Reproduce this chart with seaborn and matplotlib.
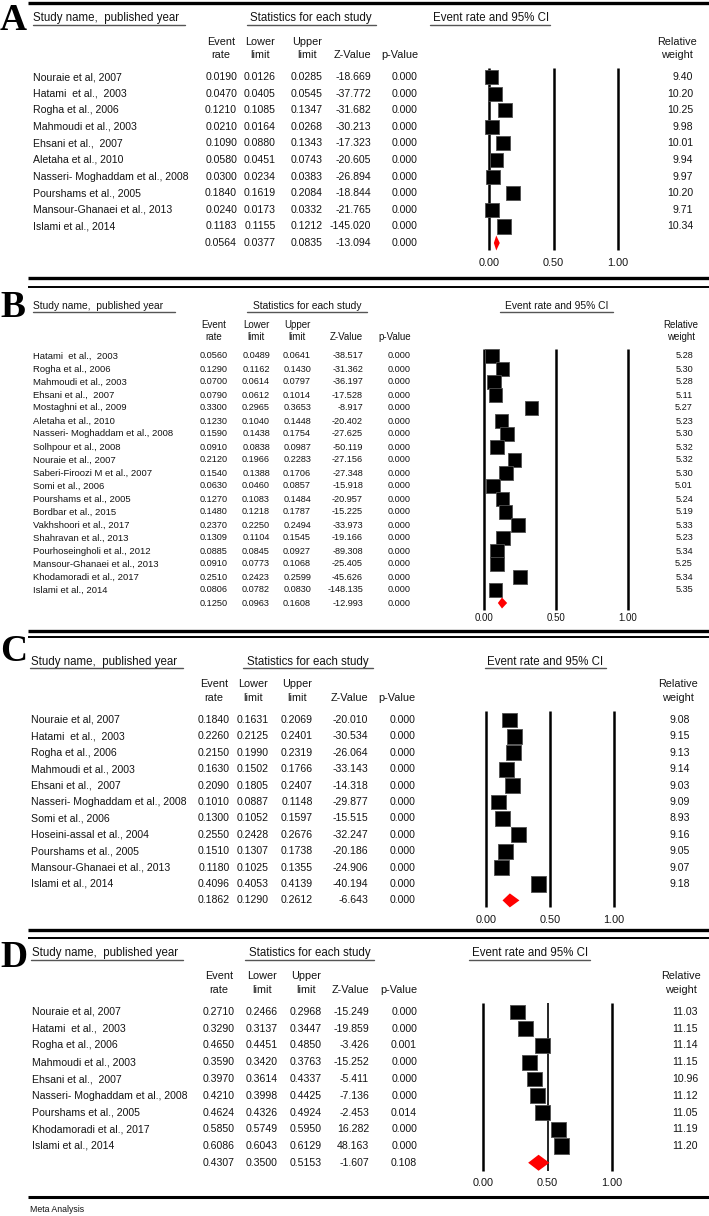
import matplotlib
matplotlib.use("Agg")
import matplotlib.pyplot as plt
import seaborn as sns
import numpy as np
import pandas as pd

# ---------------- data ----------------
a_names = ["Nouraie et al, 2007", "Hatami  et al.,  2003", "Rogha et al., 2006",
           "Mahmoudi et al., 2003", "Ehsani et al.,  2007", "Aletaha et al., 2010",
           "Nasseri- Moghaddam et al., 2008", "Pourshams et al., 2005",
           "Mansour-Ghanaei et al., 2013", "Islami et al., 2014"]
a_rate = [0.0190, 0.0470, 0.1210, 0.0210, 0.1090, 0.0580, 0.0300, 0.1840, 0.0240, 0.1183]
a_lower = [0.0126, 0.0405, 0.1085, 0.0164, 0.0880, 0.0451, 0.0234, 0.1619, 0.0173, 0.1155]
a_upper = [0.0285, 0.0545, 0.1347, 0.0268, 0.1343, 0.0743, 0.0383, 0.2084, 0.0332, 0.1212]
a_z = [-18.669, -37.772, -31.682, -30.213, -17.323, -20.605, -26.894, -18.844, -21.765, -145.020]
a_p = [0.000] * 10
a_weight = [9.40, 10.20, 10.25, 9.98, 10.01, 9.94, 9.97, 10.20, 9.71, 10.34]
a_pooled = [0.0564, 0.0377, 0.0835, -13.094, 0.000]

b_names = ["Hatami  et al.,  2003", "Rogha et al., 2006", "Mahmoudi et al., 2003",
           "Ehsani et al.,  2007", "Mostaghni et al., 2009", "Aletaha et al., 2010",
           "Nasseri- Moghaddam et al., 2008", "Solhpour et al., 2008", "Nouraie et al., 2007",
           "Saberi-Firoozi M et al., 2007", "Somi et al., 2006", "Pourshams et al., 2005",
           "Bordbar et al., 2015", "Vakhshoori et al., 2017", "Shahravan et al., 2013",
           "Pourhoseingholi et al., 2012", "Mansour-Ghanaei et al., 2013",
           "Khodamoradi et al., 2017", "Islami et al., 2014"]
b_rate = [0.0560, 0.1290, 0.0700, 0.0790, 0.3300, 0.1230, 0.1590, 0.0910, 0.2120, 0.1540,
          0.0630, 0.1270, 0.1480, 0.2370, 0.1309, 0.0885, 0.0910, 0.2510, 0.0806]
b_lower = [0.0489, 0.1162, 0.0614, 0.0612, 0.2965, 0.1040, 0.1438, 0.0838, 0.1966, 0.1388,
           0.0460, 0.1083, 0.1218, 0.2250, 0.1104, 0.0845, 0.0773, 0.2423, 0.0782]
b_upper = [0.0641, 0.1430, 0.0797, 0.1014, 0.3653, 0.1448, 0.1754, 0.0987, 0.2283, 0.1706,
           0.0857, 0.1484, 0.1787, 0.2494, 0.1545, 0.0927, 0.1068, 0.2599, 0.0830]
b_z = [-38.517, -31.362, -36.197, -17.528, -8.917, -20.402, -27.625, -50.119, -27.156, -27.348,
       -15.918, -20.957, -15.225, -33.973, -19.166, -89.308, -25.405, -45.626, -148.135]
b_p = [0.000] * 19
b_weight = [5.28, 5.30, 5.28, 5.11, 5.27, 5.23, 5.30, 5.32, 5.32, 5.30,
            5.01, 5.24, 5.19, 5.33, 5.23, 5.34, 5.25, 5.34, 5.35]
b_pooled = [0.1250, 0.0963, 0.1608, -12.993, 0.000]

c_names = ["Nouraie et al, 2007", "Hatami  et al.,  2003", "Rogha et al., 2006",
           "Mahmoudi et al., 2003", "Ehsani et al.,  2007", "Nasseri- Moghaddam et al., 2008",
           "Somi et al., 2006", "Hoseini-assal et al., 2004", "Pourshams et al., 2005",
           "Mansour-Ghanaei et al., 2013", "Islami et al., 2014"]
c_rate = [0.1840, 0.2260, 0.2150, 0.1630, 0.2090, 0.1010, 0.1300, 0.2550, 0.1510, 0.1180, 0.4096]
c_lower = [0.1631, 0.2125, 0.1990, 0.1502, 0.1805, 0.0887, 0.1052, 0.2428, 0.1307, 0.1025, 0.4053]
c_upper = [0.2069, 0.2401, 0.2319, 0.1766, 0.2407, 0.1148, 0.1597, 0.2676, 0.1738, 0.1355, 0.4139]
c_z = [-20.010, -30.534, -26.064, -33.143, -14.318, -29.877, -15.515, -32.247, -20.186, -24.906, -40.194]
c_p = [0.000] * 11
c_weight = [9.08, 9.15, 9.13, 9.14, 9.03, 9.09, 8.93, 9.16, 9.05, 9.07, 9.18]
c_pooled = [0.1862, 0.1290, 0.2612, -6.643, 0.000]

d_names = ["Nouraie et al, 2007", "Hatami  et al.,  2003", "Rogha et al., 2006",
           "Mahmoudi et al., 2003", "Ehsani et al.,  2007", "Nasseri- Moghaddam et al., 2008",
           "Pourshams et al., 2005", "Khodamoradi et al., 2017", "Islami et al., 2014"]
d_rate = [0.2710, 0.3290, 0.4650, 0.3590, 0.3970, 0.4210, 0.4624, 0.5850, 0.6086]
d_lower = [0.2466, 0.3137, 0.4451, 0.3420, 0.3614, 0.3998, 0.4326, 0.5749, 0.6043]
d_upper = [0.2968, 0.3447, 0.4850, 0.3763, 0.4337, 0.4425, 0.4924, 0.5950, 0.6129]
d_z = [-15.249, -19.859, -3.426, -15.252, -5.411, -7.136, -2.453, 16.282, 48.163]
d_p = [0.000, 0.000, 0.001, 0.000, 0.000, 0.000, 0.014, 0.000, 0.000]
d_weight = [11.03, 11.15, 11.14, 11.15, 10.96, 11.12, 11.05, 11.19, 11.20]
d_pooled = [0.4307, 0.3500, 0.5153, -1.607, 0.108]

ci_ticks = [0.0, 0.5, 1.0]

# ---------------- layout (pixel positions) ----------------
W, H = 709, 1216
layouts = {
    "A": dict(name_x=33, cols=[237, 276, 323, 371, 418], row0=77, dy=16.6, hdr_y=18, ul_y=24.5,
              ul=[(33, 185), (247, 376), (430, 550)], stats_cx=311, ci_cx=491, ch_y=(42, 55),
              rw_cx=677, w_x=693, x0=489, unit=129, vl=(68, 250), tick_y=263, letter_base=30,
              sq=14, dh=7.5, fs=7.6, nfs=7.6, hfs=8.3, cfs=7.8, mid_lw=1.8),
    "B": dict(name_x=33, cols=[228, 270, 311, 363, 411], row0=356, dy=13.0, hdr_y=306, ul_y=311.5,
              ul=[(33, 175), (247, 367), (500, 613)], stats_cx=307, ci_cx=557, ch_y=(325, 337),
              rw_cx=681, w_x=693, x0=484, unit=144, vl=(349, 610), tick_y=618, letter_base=317,
              sq=13.5, dh=5.5, fs=6.8, nfs=6.6, hfs=7.4, cfs=7.0, mid_lw=1.8),
    "C": dict(name_x=31, cols=[230, 269, 313, 368, 415], row0=720, dy=16.4, hdr_y=662, ul_y=668,
              ul=[(30, 183), (243, 373), (485, 606)], stats_cx=308, ci_cx=545, ch_y=(684, 698),
              rw_cx=678, w_x=690, x0=486, unit=128, vl=(711, 907), tick_y=920, letter_base=661,
              sq=15, dh=7, fs=7.6, nfs=7.6, hfs=8.3, cfs=7.8, mid_lw=1.8),
    "D": dict(name_x=32, cols=[235, 278, 322, 369, 417], row0=1012, dy=16.75, hdr_y=953, ul_y=960,
              ul=[(31, 183), (245, 374), (469, 590)], stats_cx=310, ci_cx=530, ch_y=(976, 990),
              rw_cx=681, w_x=698, x0=483, unit=129, vl=(1003, 1171), tick_y=1183, letter_base=967,
              sq=15, dh=8, fs=7.6, nfs=7.6, hfs=8.3, cfs=7.8, mid_lw=1.2),
}

sns.set_theme(style="white")
plt.rcParams['font.family'] = ['Liberation Sans', 'DejaVu Sans']
TXT = '#141414'

fig = plt.figure(figsize=(W / 100, H / 100), dpi=100)
bg = fig.add_axes([0, 0, 1, 1])
bg.set_xlim(0, W)
bg.set_ylim(H, 0)
bg.axis('off')

# separator rules
for y, lw in [(3, 2.4), (278, 2.4), (287, 1.4), (631, 2.4), (637, 1.4),
              (930, 2.4), (938, 1.4), (1197, 2.2)]:
    bg.plot([28, W], [y, y], color='black', lw=lw, solid_capstyle='butt')
bg.text(30, 1209, "Meta Analysis", fontsize=6.3, color=TXT, va='center')


def draw_panel(letter, names, rate, lower, upper, z, p, weight, pooled):
    lay = layouts[letter]
    n = len(names)
    fs, nfs = lay['fs'], lay['nfs']
    row_y = [lay['row0'] + i * lay['dy'] for i in range(n + 1)]

    bg.text(0, lay['letter_base'], letter, family='Liberation Serif', weight='bold',
            fontsize=27, color='black', va='baseline', ha='left')

    # section headers
    bg.text(lay['name_x'], lay['hdr_y'], "Study name,  published year", fontsize=lay['hfs'],
            color=TXT, va='center')
    bg.text(lay['stats_cx'], lay['hdr_y'], "Statistics for each study", fontsize=lay['hfs'],
            color=TXT, va='center', ha='center')
    bg.text(lay['ci_cx'], lay['hdr_y'], "Event rate and 95% CI", fontsize=lay['hfs'],
            color=TXT, va='center', ha='center')
    for x1, x2 in lay['ul']:
        bg.plot([x1, x2], [lay['ul_y'], lay['ul_y']], color='#555555', lw=1.0)

    # column headers
    cols = lay['cols']
    half = 3.06 * nfs * 100 / 72 / 2
    y1, y2 = lay['ch_y']
    for cx, top, bot in zip(cols[:3], ["Event", "Lower", "Upper"], ["rate", "limit", "limit"]):
        bg.text(cx - half, y1, top, fontsize=lay['cfs'], color=TXT, va='center', ha='center')
        bg.text(cx - half, y2, bot, fontsize=lay['cfs'], color=TXT, va='center', ha='center')
    bg.text(cols[3], y2, "Z-Value", fontsize=lay['cfs'], color=TXT, va='center', ha='right')
    bg.text(cols[4], y2, "p-Value", fontsize=lay['cfs'], color=TXT, va='center', ha='right')
    bg.text(lay['rw_cx'], y1, "Relative", fontsize=lay['cfs'], color=TXT, va='center', ha='center')
    bg.text(lay['rw_cx'], y2, "weight", fontsize=lay['cfs'], color=TXT, va='center', ha='center')

    # table rows
    rows = list(zip(rate, lower, upper, z, p)) + [tuple(pooled)]
    for i, (r, lo, hi, zz, pp) in enumerate(rows):
        y = row_y[i]
        if i < n:
            bg.text(lay['name_x'], y, names[i], fontsize=fs, color=TXT, va='center')
            bg.text(lay['w_x'], y, f"{weight[i]:.2f}", fontsize=nfs, color=TXT, va='center', ha='right')
        for cx, s in zip(cols, [f"{r:.4f}", f"{lo:.4f}", f"{hi:.4f}", f"{zz:.3f}", f"{pp:.3f}"]):
            bg.text(cx, y, s, fontsize=nfs, color=TXT, va='center', ha='right')

    # forest plot axes: x in event-rate units, y in row index
    x0, unit, row0, dy = lay['x0'], lay['unit'], lay['row0'], lay['dy']
    left = x0 - 0.5 * unit
    top = row0 - dy
    bottom = row0 + (n + 1) * dy
    fx = fig.add_axes([left / W, 1 - bottom / H, 2 * unit / W, (bottom - top) / H])
    fx.patch.set_alpha(0)

    df = pd.DataFrame({"rate": rate, "row": np.arange(n), "weight": weight})
    base = (lay['sq'] * 72 / 100) ** 2
    wm = np.mean(weight)
    sns.scatterplot(data=df, x="rate", y="row", size="weight",
                    sizes=(base * min(weight) / wm, base * max(weight) / wm),
                    marker='s', color='black', edgecolor='#505050', linewidth=0.6,
                    legend=False, ax=fx, zorder=3)

    vt = (lay['vl'][0] - row0) / dy
    vb = (lay['vl'][1] - row0) / dy
    for t in ci_ticks:
        lw = lay['mid_lw'] if t == 0.5 else 1.8
        fx.plot([t, t], [vt, vb], color='black', lw=lw, zorder=1, solid_capstyle='butt')
        fx.text(t, (lay['tick_y'] - row0) / dy, f"{t:.2f}", fontsize=lay['cfs'],
                color=TXT, ha='center', va='center')

    pr, plo, phi = pooled[0], pooled[1], pooled[2]
    h = lay['dh'] / dy
    fx.fill([plo, pr, phi, pr], [n, n - h, n, n + h], color='#ff0000', zorder=4, lw=0)

    fx.set_xlim(-0.5, 1.5)
    fx.set_ylim(n + 1, -1)
    fx.axis('off')


draw_panel("A", a_names, a_rate, a_lower, a_upper, a_z, a_p, a_weight, a_pooled)
draw_panel("B", b_names, b_rate, b_lower, b_upper, b_z, b_p, b_weight, b_pooled)
draw_panel("C", c_names, c_rate, c_lower, c_upper, c_z, c_p, c_weight, c_pooled)
draw_panel("D", d_names, d_rate, d_lower, d_upper, d_z, d_p, d_weight, d_pooled)

fig.savefig("out.png", dpi=100)
